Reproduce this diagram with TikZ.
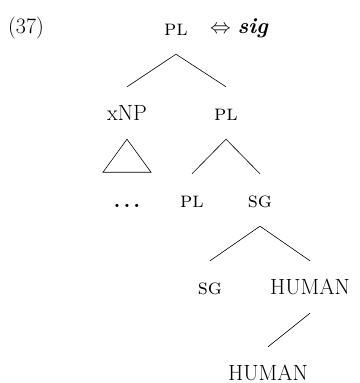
\documentclass[tikz,border=0pt]{standalone}
\usepackage{fontspec}
\begin{document}
\begin{tikzpicture}[x=1pt,y=-1pt,
  every node/.style={font=\fontsize{22}{26}\selectfont},
  cat/.style={inner sep=0pt, minimum height=52pt, text height=14pt, text depth=0pt},
  br/.style={line width=0.6pt}]
\useasboundingbox (0,0) rectangle (359,383);
\node[anchor=west, inner sep=0pt] (ex) at (8,28) {(37)};
\node[cat] (pl1) at (176,28) {\textsc{pl}};
\node[anchor=west, inner sep=0pt] (sig) at (210,28) {$\Leftrightarrow$ \textbf{\textit{sig}}};
\node[cat] (xnp) at (127,113) {xNP};
\node[cat] (pl2) at (226,113) {\textsc{pl}};
\node[cat] (dots) at (127,200) {\textbf{.\kern3pt.\kern3pt.}};
\node[cat] (pl3) at (192,200) {\textsc{pl}};
\node[cat] (sg1) at (260,200) {\textsc{sg}};
\node[cat] (sg2) at (210,287) {\textsc{sg}};
\node[cat] (hum1) at (310,287) {HUMAN};
\node[cat] (hum2) at (268,373) {HUMAN};
\draw[br] (pl1.south) -- (xnp.north);
\draw[br] (pl1.south) -- (pl2.north);
\draw[br] (xnp.south) -- ++(-24,33) -- ++(48,0) -- cycle;
\draw[br] (pl2.south) -- (pl3.north);
\draw[br] (pl2.south) -- (sg1.north);
\draw[br] (sg1.south) -- (sg2.north);
\draw[br] (sg1.south) -- (hum1.north);
\draw[br] (hum1.south) -- (hum2.north);
\end{tikzpicture}
\end{document}
